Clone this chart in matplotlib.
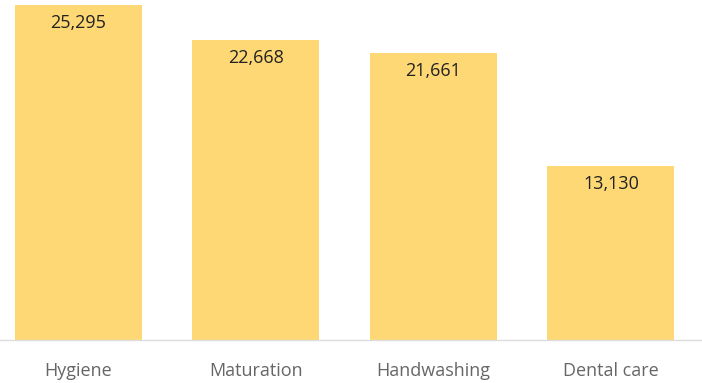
import matplotlib
matplotlib.use("Agg")
import matplotlib.pyplot as plt

categories = ["Hygiene", "Maturation", "Handwashing", "Dental care"]
values = [25295, 22668, 21661, 13130]

plt.rcParams["font.family"] = ["Open Sans", "DejaVu Sans"]

fig = plt.figure(figsize=(7.02, 3.83), dpi=100)
ax = fig.add_axes([0.0, 43 / 383, 1.0, 340 / 383])

x = range(len(categories))
bars = ax.bar(x, values, width=0.715, color="#FED874")

for b, v in zip(bars, values):
    ax.annotate(f"{v:,}", (b.get_x() + b.get_width() / 2, v),
                xytext=(0, -6.5), textcoords="offset points",
                ha="center", va="top", fontsize=13, color="#222222")

ax.set_xlim(-0.442, 3.513)
ax.set_ylim(0, 25295 * 340 / 335)
ax.set_xticks(list(x))
ax.set_xticklabels(categories, fontsize=13, color="#666666")
ax.tick_params(axis="x", length=0, pad=16)
ax.set_yticks([])
for s in ["top", "left", "right"]:
    ax.spines[s].set_visible(False)
ax.spines["bottom"].set_color("#dddddd")
ax.spines["bottom"].set_linewidth(1)

fig.savefig("out.png", dpi=100)
